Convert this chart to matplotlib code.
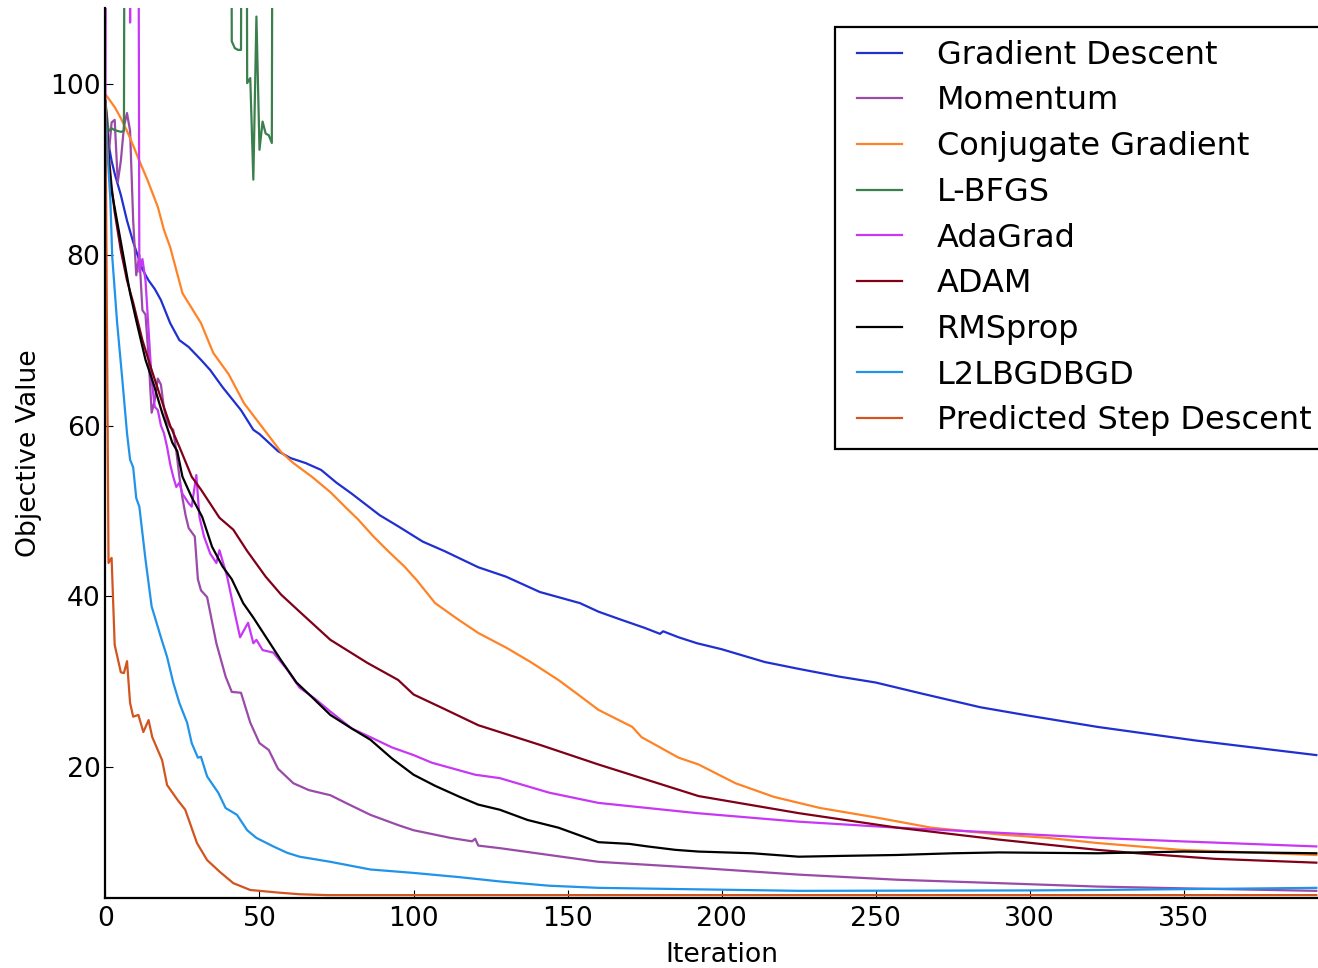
import numpy as np
from matplotlib import pyplot as plt

# values (iteration, objective value)
gd_x = [0, 1, 2, 3, 5, 7, 9, 12, 14, 16, 18, 21, 24, 27, 31, 34, 38, 44, 48, 50, 53, 56, 60, 65, 70, 75, 80, 89,
        95, 103, 110, 121, 130, 141, 154, 160, 167, 175, 180, 181, 186, 192, 200, 214, 225, 238, 250, 265, 284,
        300, 322, 338, 354, 370, 393]
gd_y = [97.5, 93, 91, 89.5, 87, 84, 81.5, 78.3, 77, 76, 74.7, 72, 70, 69.2, 67.7, 66.5, 64.5, 61.8, 59.5, 59.0,
        58.0, 57.0, 56.2, 55.6, 54.8, 53.3, 52.0, 49.5, 48.2, 46.4, 45.3, 43.4, 42.3, 40.5, 39.2, 38.2, 37.3,
        36.3, 35.6, 35.9, 35.2, 34.5, 33.8, 32.3, 31.5, 30.6, 29.9, 28.6, 27.0, 26.0, 24.7, 23.9, 23.1, 22.4, 21.4]

mom_x = [0, 1, 2, 3, 4, 5, 6, 7, 8, 9, 10, 11, 12, 13, 14, 15, 16, 17, 18, 19, 20, 21, 22, 23, 24, 25, 26, 27,
         28, 29, 30, 31, 33, 36, 39, 41, 44, 47, 50, 53, 56, 61, 66, 73, 78, 86, 95, 100, 112, 119, 120, 121,
         128, 144, 160, 192, 225, 257, 290, 322, 349, 393]
mom_y = [98, 91.5, 95.5, 95.8, 88.5, 91, 95, 96.6, 94.5, 84, 77.6, 80, 73.5, 73, 68, 61.5, 63, 65.5, 64.8, 62,
         60.5, 59.8, 59.5, 57, 54, 51.5, 49.5, 48, 47.5, 47, 42, 40.7, 39.9, 34.5, 30.6, 28.8, 28.7, 25.2, 22.8,
         22.0, 19.8, 18.1, 17.3, 16.7, 15.8, 14.4, 13.2, 12.6, 11.7, 11.3, 11.6, 10.8, 10.5, 9.7, 8.9, 8.2, 7.4,
         6.8, 6.4, 6.0, 5.8, 5.5]

cg_x = [0, 2, 3, 5, 7, 9, 11, 13.6, 17, 19, 21, 25, 31, 35, 40, 45, 49, 53, 57, 61, 67, 73, 78, 82, 87, 92, 97,
        101, 107, 114, 121, 130, 138, 147, 153, 160, 171, 174, 186, 192.5, 204.5, 217, 232, 250, 268, 290, 306,
        322, 349, 393]
cg_y = [98.8, 97.8, 97.3, 96, 94.5, 92.8, 91, 88.8, 85.6, 82.9, 80.9, 75.5, 72, 68.5, 66, 62.6, 60.7, 58.8,
        56.9, 55.6, 54, 52.2, 50.4, 49, 47, 45.2, 43.5, 41.9, 39.2, 37.4, 35.7, 34, 32.3, 30.2, 28.6, 26.7, 24.7,
        23.5, 21.1, 20.3, 18.1, 16.5, 15.2, 14.1, 12.9, 12.1, 11.7, 11.1, 10.3, 9.7]

lbfgs_x = [0, 1, 2, 3, 4, 5, 6, 7, 40, 41, 42, 43, 44, 45, 46, 47, 48, 49, 50, 51, 52, 53, 54, 55]
lbfgs_y = [98, 94.5, 94.8, 94.6, 94.5, 94.4, 94.5, 250, 250, 105, 104.2, 104, 104, 250, 100.1, 100.7, 88.8,
           107.9, 92.3, 95.6, 94.2, 94.0, 93.1, 250]

ada_x = [0, 1, 7, 8, 9, 10, 11, 12, 13, 14, 15, 16, 17, 18, 19, 20, 21, 22, 23, 24, 25, 27, 28, 29.5, 30.5, 32,
         34, 36, 37, 39.5, 42, 43.7, 46.3, 48, 49, 51, 54.5, 59, 63, 68, 73, 80, 86, 93, 100, 106, 112, 120, 128,
         144, 160, 192, 225, 257, 290, 322, 349, 393]
ada_y = [98, 250, 250, 107.2, 250, 250, 78, 79.5, 77, 71.2, 65.3, 62.2, 61.8, 60, 59.1, 57.5, 55.5, 54, 52.8,
         53.3, 52, 50.9, 50.5, 54.2, 49.3, 47, 45, 43.9, 45.4, 42.3, 38, 35.2, 36.9, 34.5, 34.9, 33.7, 33.4,
         31.4, 29.3, 28, 26.5, 24.5, 23.5, 22.3, 21.4, 20.5, 19.9, 19.1, 18.7, 17.0, 15.8, 14.6, 13.6, 12.9,
         12.3, 11.7, 11.3, 10.7]

adam_x = [0, 1, 2, 3, 5, 7, 9, 12, 15, 18, 21, 24, 28, 31, 37, 41.5, 46, 52, 57, 63, 73, 85, 95, 100, 110, 121,
          141, 160, 192.5, 225, 257, 290, 306, 322, 335, 360, 393]
adam_y = [98, 92, 88, 85, 80.5, 77, 74.4, 70, 66.5, 63.2, 60, 57.5, 54, 52.5, 49.2, 47.8, 45.3, 42.3, 40.2, 38.2,
          34.9, 32.2, 30.2, 28.5, 26.8, 24.9, 22.6, 20.3, 16.6, 14.6, 12.9, 11.5, 10.9, 10.3, 9.9, 9.25, 8.8]

rms_x = [0, 1, 2, 4, 6, 8, 10, 13, 15.5, 18.4, 21.7, 23.3, 25, 28, 31.4, 34.6, 38, 41, 44.7, 48, 53.4, 57, 62,
         67, 73, 80, 86, 93, 100, 107, 115, 121, 128, 137, 147, 160, 170, 176, 185, 192.5, 210, 225, 240, 257,
         275, 290, 322, 350, 393]
rms_y = [98, 91, 87.5, 83.5, 79.5, 75.5, 72.3, 67.7, 65, 61.5, 58, 57, 54, 51.6, 49.3, 45.8, 43.5, 42, 39.2,
         37.5, 34.5, 32.5, 29.9, 28.2, 26.1, 24.5, 23.2, 21, 19.1, 17.8, 16.5, 15.6, 15, 13.8, 12.9, 11.2, 11,
         10.7, 10.3, 10.1, 9.9, 9.5, 9.6, 9.7, 9.9, 10.0, 9.9, 10.1, 9.9]

l2l_x = [0, 1, 1.6, 2.2, 3.8, 5.5, 7, 8, 9, 10, 11, 13, 15, 18, 20, 22, 24, 26.5, 28, 30, 31, 33, 36.6, 39,
         42.7, 46, 49, 54.5, 59, 63, 73, 86, 100, 115, 128, 144, 160, 225, 300, 322, 393]
l2l_y = [98, 90, 86.4, 79.8, 72, 65.3, 59.1, 56, 55.1, 51.5, 50.5, 44.3, 38.8, 35.2, 32.9, 29.9, 27.5, 25.2,
         22.8, 21.1, 21.2, 18.9, 17, 15.2, 14.4, 12.6, 11.7, 10.7, 9.95, 9.5, 8.9, 8.0, 7.6, 7.1, 6.6, 6.1,
         5.85, 5.5, 5.55, 5.6, 5.85]

psd_x = [0, 1, 2, 3, 5, 6, 7, 8, 9, 10.7, 12.3, 14, 15.2, 18.4, 20, 23.3, 25.9, 29.7, 33, 37.2, 41.5, 47, 56,
         63, 72, 393]
psd_y = [98, 43.9, 44.5, 34.3, 31.1, 31, 32.4, 27.5, 25.9, 26.1, 24.1, 25.5, 23.5, 20.8, 17.9, 16.2, 15, 11.1,
         9.1, 7.7, 6.4, 5.6, 5.3, 5.1, 5.0, 5.0]

labels = ['Gradient Descent', 'Momentum', 'Conjugate Gradient', 'L-BFGS', 'AdaGrad', 'ADAM', 'RMSprop',
          'L2LBGDBGD', 'Predicted Step Descent']
colors = ['#2030d0', '#9a4aa8', '#ff8326', '#3b7f4d', '#c737f5', '#800018', '#000000', '#2193e8', '#d2541e']

series = [(gd_x, gd_y), (mom_x, mom_y), (cg_x, cg_y), (lbfgs_x, lbfgs_y), (ada_x, ada_y),
          (adam_x, adam_y), (rms_x, rms_y), (l2l_x, l2l_y), (psd_x, psd_y)]

plt.rcParams['font.family'] = 'DejaVu Sans'
plt.rcParams['legend.numpoints'] = 2

fig = plt.figure(figsize=(13.18, 9.68), dpi=100)
ax = fig.add_axes([0.0800, 0.0723, 0.9351, 0.9194])

for (xs, ys), lab, col in zip(series, labels, colors):
    ax.plot(xs, ys, color=col, lw=1.6, label=lab)

ax.set_xlim(0, 400)
ax.set_ylim(4.66, 108.9)
ax.set_xticks([0, 50, 100, 150, 200, 250, 300, 350])
ax.set_yticks([20, 40, 60, 80, 100])
ax.tick_params(direction='in', length=6, width=0.8, labelsize=19.2)
ax.tick_params(axis='x', pad=6)
ax.tick_params(axis='y', pad=3.5)
ax.spines['top'].set_visible(False)
ax.spines['right'].set_visible(False)
ax.spines['left'].set_linewidth(1.6)
ax.spines['bottom'].set_linewidth(1.6)
ax.set_xlabel('Iteration', fontsize=19.2, labelpad=7)
ax.set_ylabel('Objective Value', fontsize=19.2, labelpad=6)

leg = ax.legend(loc='upper left', bbox_to_anchor=(0.5916, 0.9787), borderaxespad=0, fontsize=23,
                fancybox=False, framealpha=1, edgecolor='black', borderpad=0.4, labelspacing=0.46,
                handlelength=2.0, handletextpad=0.8)
leg.get_frame().set_linewidth(1.6)

fig.savefig('out.png', dpi=100)
